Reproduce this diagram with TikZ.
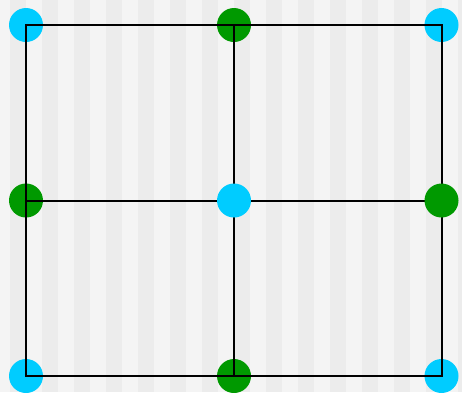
\documentclass[tikz,border=0pt]{standalone}
\usepackage{tikz}

\definecolor{fondoclaro}{RGB}{244,244,244}
\definecolor{fondooscuro}{RGB}{236,236,236}
\definecolor{celeste}{RGB}{0,204,255}
\definecolor{verdeosc}{RGB}{0,153,0}

\begin{document}
\begin{tikzpicture}[x=1pt,y=-1pt,line width=2pt,
  punto/.style={circle,draw=none,inner sep=0pt,minimum size=34pt},
  azul/.style={punto,fill=celeste},
  verde/.style={punto,fill=verdeosc}]
  % fondo a franjas
  \fill[fondoclaro] (0,0) rectangle (462,392);
  \foreach \x in {10,42,...,458}
    \fill[fondooscuro] (\x,0) rectangle ({min(\x+16,462)},392);
  \useasboundingbox (0,0) rectangle (462,392);
  % puntos de la malla
  \foreach \i/\x in {1/26,2/234,3/441.5} \foreach \j/\y in {1/25,2/200.5,3/376}
    \coordinate (p\i\j) at (\x,\y);
  % discos bajo las lineas
  \foreach \p/\c in {p11/azul,p21/verde,p31/azul,p12/verde,p13/azul,p23/verde,p33/azul}
    \node[\c] (n\p) at (\p) {};
  % malla
  \draw (p11) -- (p31) -- (p33) -- (p13) -- cycle;
  \draw (p21) -- (p23);
  \draw (p12) -- (p32);
  % discos sobre las lineas
  \node[azul] (np22) at (p22) {};
  \node[verde] (np32) at (p32) {};
\end{tikzpicture}
\end{document}
